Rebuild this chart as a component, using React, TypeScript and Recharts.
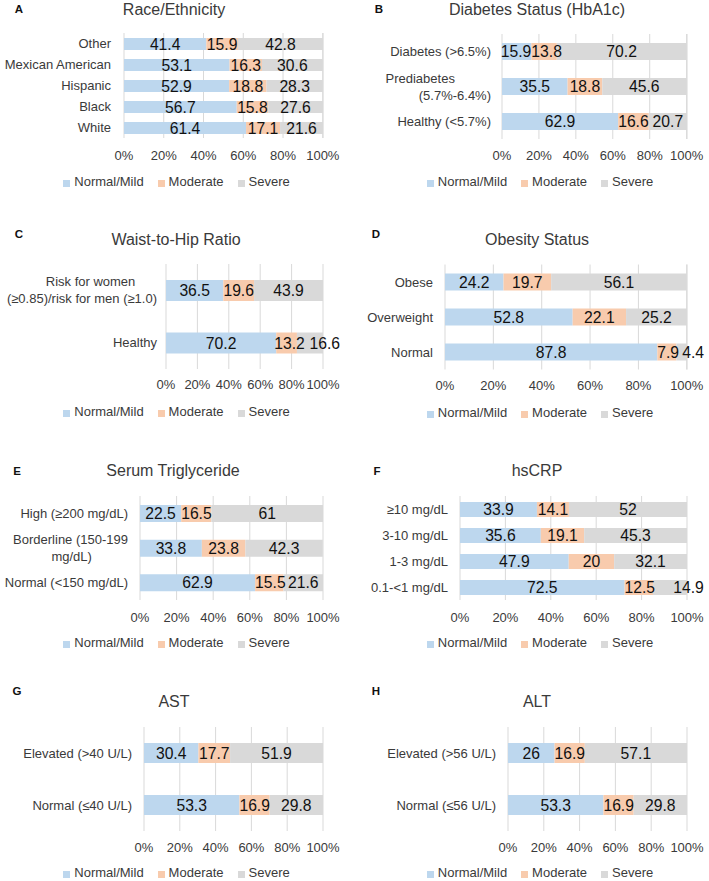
import React from "react";
import {
  BarChart,
  Bar,
  XAxis,
  YAxis,
  CartesianGrid,
  LabelList,
  Legend,
} from "recharts";

const FONT = '"Liberation Sans", Arial, Helvetica, sans-serif';
const BLUE = "#BDD7EE";
const ORANGE = "#F8CBAD";
const GRAY = "#D9D9D9";
const AXIS = "#3a3a3a";
const VALUE = "#111";

// trailing no-break spaces reproduce the way the wrapped labels sit
const pad = (n: number) => "\u00a0".repeat(n);

const SERIES = ["Normal/Mild", "Moderate", "Severe"];
const SERIES_COLORS = [BLUE, ORANGE, GRAY];
const TICKS = [0, 20, 40, 60, 80, 100];

// A
const raceCats = ["Other", "Mexican American", "Hispanic", "Black", "White"];
const raceMild = [41.4, 53.1, 52.9, 56.7, 61.4];
const raceModerate = [15.9, 16.3, 18.8, 15.8, 17.1];
const raceSevere = [42.8, 30.6, 28.3, 27.6, 21.6];

// B
const diabCats = ["Diabetes (>6.5%)", "Prediabetes" + pad(10) + "\n(5.7%-6.4%)", "Healthy (<5.7%)"];
const diabMild = [15.9, 35.5, 62.9];
const diabModerate = [13.8, 18.8, 16.6];
const diabSevere = [70.2, 45.6, 20.7];

// C
const whrCats = ["Risk for women" + pad(6) + "\n(≥0.85)/risk for men (≥1.0)", "Healthy"];
const whrMild = [36.5, 70.2];
const whrModerate = [19.6, 13.2];
const whrSevere = [43.9, 16.6];

// D
const obCats = ["Obese", "Overweight", "Normal"];
const obMild = [24.2, 52.8, 87.8];
const obModerate = [19.7, 22.1, 7.9];
const obSevere = [56.1, 25.2, 4.4];

// E
const tgCats = ["High (≥200 mg/dL)", "Borderline (150-199\nmg/dL)" + pad(10), "Normal (<150 mg/dL)"];
const tgMild = [22.5, 33.8, 62.9];
const tgModerate = [16.5, 23.8, 15.5];
const tgSevere = [61, 42.3, 21.6];

// F
const crpCats = ["≥10 mg/dL", "3-10 mg/dL", "1-3 mg/dL", "0.1-<1 mg/dL"];
const crpMild = [33.9, 35.6, 47.9, 72.5];
const crpModerate = [14.1, 19.1, 20, 12.5];
const crpSevere = [52, 45.3, 32.1, 14.9];

// G
const astCats = ["Elevated (>40 U/L)", "Normal (≤40 U/L)"];
const astMild = [30.4, 53.3];
const astModerate = [17.7, 16.9];
const astSevere = [51.9, 29.8];

// H
const altCats = ["Elevated (>56 U/L)", "Normal (≤56 U/L)"];
const altMild = [26, 53.3];
const altModerate = [16.9, 16.9];
const altSevere = [57.1, 29.8];

function buildRows(cats: string[], mild: number[], moderate: number[], severe: number[]) {
  return cats.map((name, i) => ({
    name,
    mild: mild[i],
    moderate: moderate[i],
    severe: severe[i],
  }));
}

const PANELS = [
  { letter: "A", title: "Race/Ethnicity", rows: buildRows(raceCats, raceMild, raceModerate, raceSevere),
    px: 0, py: 0, plotL: 124, plotR: 323, plotT: 33, plotB: 138, bar: 12, yGap: 13,
    tickY: 155, legendY: 182, legendX: 176.5, titleX: 174, titleY: 9.5, letterX: 19, letterY: 9.5 },
  { letter: "B", title: "Diabetes Status (HbA1c)", rows: buildRows(diabCats, diabMild, diabModerate, diabSevere),
    px: 354, py: 0, plotL: 502, plotR: 687, plotT: 34, plotB: 139, bar: 17, yGap: 11,
    tickY: 155, legendY: 182, legendX: 540, titleX: 537, titleY: 9.5, letterX: 379, letterY: 9.5 },
  { letter: "C", title: "Waist-to-Hip Ratio", rows: buildRows(whrCats, whrMild, whrModerate, whrSevere),
    px: 0, py: 220, plotL: 166, plotR: 323, plotT: 264, plotB: 369, bar: 21, yGap: 9,
    tickY: 384, legendY: 412, legendX: 176.5, titleX: 176, titleY: 240, letterX: 19, letterY: 235 },
  { letter: "D", title: "Obesity Status", rows: buildRows(obCats, obMild, obModerate, obSevere),
    px: 354, py: 220, plotL: 445, plotR: 687, plotT: 264.5, plotB: 369.5, bar: 17, yGap: 12,
    tickY: 385, legendY: 413, legendX: 540, titleX: 537, titleY: 240, letterX: 376, letterY: 235 },
  { letter: "E", title: "Serum Triglyceride", rows: buildRows(tgCats, tgMild, tgModerate, tgSevere),
    px: 0, py: 440, plotL: 140, plotR: 323, plotT: 496, plotB: 600, bar: 17, yGap: 12,
    tickY: 617, legendY: 643, legendX: 176.5, titleX: 173, titleY: 471, letterX: 17, letterY: 472 },
  { letter: "F", title: "hsCRP", rows: buildRows(crpCats, crpMild, crpModerate, crpSevere),
    px: 354, py: 440, plotL: 460, plotR: 687, plotT: 496, plotB: 600, bar: 15, yGap: 12,
    tickY: 617, legendY: 643, legendX: 540, titleX: 537, titleY: 471, letterX: 377, letterY: 472 },
  { letter: "G", title: "AST", rows: buildRows(astCats, astMild, astModerate, astSevere),
    px: 0, py: 660, plotL: 144, plotR: 323, plotT: 727, plotB: 831, bar: 20, yGap: 12,
    tickY: 847, legendY: 873, legendX: 176.5, titleX: 174, titleY: 702, letterX: 17, letterY: 692 },
  { letter: "H", title: "ALT", rows: buildRows(altCats, altMild, altModerate, altSevere),
    px: 354, py: 660, plotL: 508, plotR: 687, plotT: 727, plotB: 831, bar: 20, yGap: 12,
    tickY: 847, legendY: 873, legendX: 540, titleX: 537, titleY: 702, letterX: 376, letterY: 692 },
];

const VALUE_SIZE = 15.7;

// centred in its segment; narrow segments nudge the label a little outwards,
// and the last one is pushed past the bar end when it doesn't fit
const valueLabel = (pos: number) => (props: any) => {
  const x = Number(props.x);
  const y = Number(props.y);
  const width = Number(props.width);
  const height = Number(props.height);
  if (props.value == null) return null;
  const txt = String(props.value);
  const w = [...txt].reduce((s, c) => s + (c === "." ? 0.278 : 0.556), 0) * VALUE_SIZE;
  let cx = x + width / 2;
  const over = Math.max(0, (w - width) / 2);
  if (pos === 0) cx -= Math.min(3, over);
  if (pos === 1) cx += Math.min(3, over);
  if (pos === 2 && w > width - 6) cx = x + width + 17 - w / 2;
  return (
    <text
      x={cx}
      y={y + height / 2 + VALUE_SIZE * 0.36}
      textAnchor="middle"
      fontSize={VALUE_SIZE}
      fill={VALUE}
      fontFamily={FONT}
    >
      {txt}
    </text>
  );
};

function CategoryTick(props: any) {
  const { x, y, payload } = props;
  const lines = String(payload.value).split("\n");
  const lh = 17;
  return (
    <text textAnchor="end" fontSize={13} fill={AXIS} fontFamily={FONT}>
      {lines.map((ln, i) => (
        <tspan key={i} x={x} y={y + (i - (lines.length - 1) / 2) * lh + 4.6}>
          {ln}
        </tspan>
      ))}
    </text>
  );
}

function LegendContent() {
  return (
    <div
      style={{
        display: "flex",
        justifyContent: "center",
        alignItems: "center",
        fontSize: 13,
        lineHeight: "16px",
        color: AXIS,
        fontFamily: FONT,
      }}
    >
      {SERIES.map((name, i) => (
        <span
          key={name}
          style={{ display: "inline-flex", alignItems: "center", margin: "0 7px" }}
        >
          <span
            style={{
              display: "inline-block",
              width: 7,
              height: 7,
              marginRight: 4,
              marginTop: 2,
              background: SERIES_COLORS[i],
            }}
          />
          {name}
        </span>
      ))}
    </div>
  );
}

function Panel({ p }: { p: (typeof PANELS)[number] }) {
  const W = 354;
  const H = 220;
  const axisH = 20;
  return (
    <div style={{ position: "absolute", left: p.px, top: p.py, width: W, height: H }}>
      <BarChart
        width={W}
        height={H}
        data={p.rows}
        layout="vertical"
        barSize={p.bar}
        margin={{
          top: p.plotT - p.py,
          right: p.px + W - p.plotR,
          bottom: p.py + H - p.plotB - axisH,
          left: 0,
        }}
      >
        <CartesianGrid horizontal={false} stroke={GRAY} strokeWidth={1} />
        <XAxis
          type="number"
          domain={[0, 100]}
          ticks={TICKS}
          interval={0}
          height={axisH}
          axisLine={false}
          tickLine={false}
          tickSize={0}
          tickMargin={p.tickY - p.plotB - 4.6}
          tickFormatter={(v) => `${v}%`}
          tick={{ fontSize: 13, fill: AXIS, fontFamily: FONT }}
        />
        <YAxis
          type="category"
          dataKey="name"
          width={p.plotL - p.px}
          interval={0}
          axisLine={false}
          tickLine={false}
          tickSize={0}
          tickMargin={p.yGap}
          tick={(t: any) => <CategoryTick {...t} />}
        />
        <Legend
          verticalAlign="middle"
          align="center"
          content={() => <LegendContent />}
          wrapperStyle={{ top: p.legendY - p.py - 8, left: p.legendX - p.px - 177, width: 354 }}
        />
        <Bar dataKey="mild" name={SERIES[0]} stackId="s" fill={SERIES_COLORS[0]} isAnimationActive={false}>
          <LabelList dataKey="mild" content={valueLabel(0)} />
        </Bar>
        <Bar dataKey="moderate" name={SERIES[1]} stackId="s" fill={SERIES_COLORS[1]} isAnimationActive={false}>
          <LabelList dataKey="moderate" content={valueLabel(1)} />
        </Bar>
        <Bar dataKey="severe" name={SERIES[2]} stackId="s" fill={SERIES_COLORS[2]} isAnimationActive={false}>
          <LabelList dataKey="severe" content={valueLabel(2)} />
        </Bar>
      </BarChart>
      <div
        style={{
          position: "absolute",
          left: p.letterX - p.px,
          top: p.letterY - p.py,
          transform: "translate(-50%, -50%)",
          fontFamily: FONT,
          fontWeight: "bold",
          fontSize: 11.5,
          lineHeight: 1,
          color: "#111",
        }}
      >
        {p.letter}
      </div>
      <div
        style={{
          position: "absolute",
          left: p.titleX - p.px,
          top: p.titleY - p.py,
          transform: "translate(-50%, -50%)",
          fontFamily: FONT,
          fontSize: 16,
          lineHeight: 1,
          whiteSpace: "nowrap",
          color: AXIS,
        }}
      >
        {p.title}
      </div>
    </div>
  );
}

export default function App() {
  return (
    <div
      style={{
        position: "absolute",
        left: 0,
        top: 0,
        width: 709,
        height: 881,
        background: "#fff",
        overflow: "hidden",
        fontFamily: FONT,
      }}
    >
      {PANELS.map((p) => (
        <Panel key={p.letter} p={p} />
      ))}
    </div>
  );
}
